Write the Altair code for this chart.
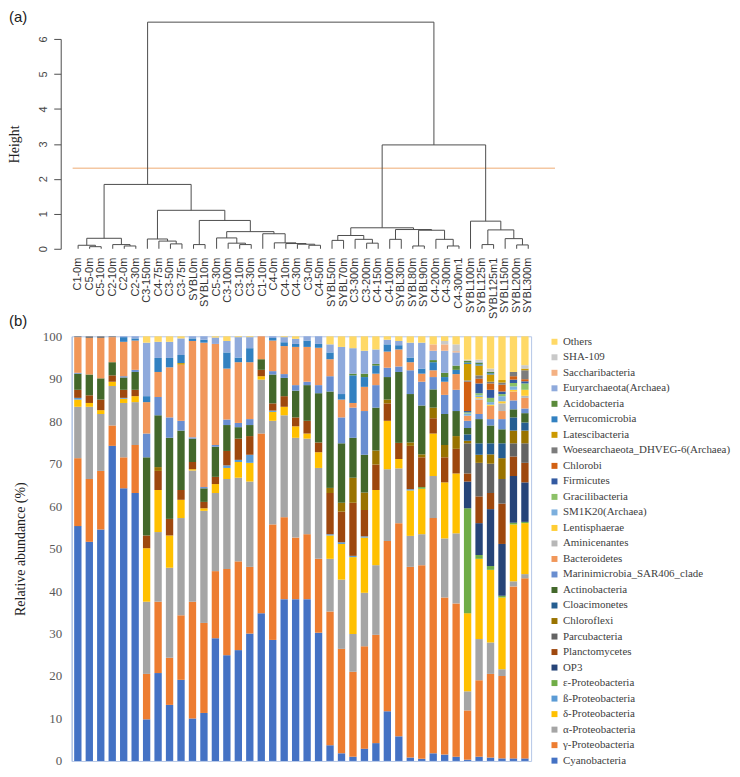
import altair as alt
import pandas as pd

samples = ["C1-0m", "C5-0m", "C5-10m", "C2-10m", "C2-0m", "C2-30m", "C3-150m", "C4-75m", "C3-50m", "C3-75m",
           "SYBL0m", "SYBL10m", "C5-30m", "C3-100m", "C3-10m", "C3-30m", "C1-10m", "C4-0m", "C4-10m", "C4-30m",
           "C3-0m", "C4-50m", "SYBL50m", "SYBL70m", "C3-300m", "C3-200m", "C4-150m", "C4-100m", "SYBL30m", "SYBL80m",
           "SYBL90m", "C4-200m", "C4-300m", "C4-300m1", "SYBL100m", "SYBL125m", "SYBL125m1", "SYBL150m", "SYBL200m", "SYBL300m"]

# Dendrogram merges: [left, right, height]; integers are leaf indices in the order above
left_tree = [[[0, [1, 2, 0.06], 0.10], [3, [4, 5, 0.08], 0.12], 0.30],
             [[6, [7, [8, 9, 0.14], 0.22], 0.28],
              [[10, 11, 0.12],
               [[12, [13, [14, 15, 0.12], 0.16], 0.31],
                [16, [17, [18, [19, [20, 21, 0.10], 0.13], 0.15], 0.17], 0.43], 0.49], 0.81], 1.10], 1.84]
right_tree = [[[[22, 23, 0.24], [24, [25, 26, 0.16], 0.27], 0.38],
               [[27, 28, 0.27], [[29, 30, 0.08], [31, [32, 33, 0.08], 0.27], 0.53], 0.55], 0.60],
              [34, [[35, 36, 0.12], [37, [38, 39, 0.11], 0.29], 0.54], 0.79], 2.97]
root_tree = [left_tree, right_tree, 6.48]
cut_height = 2.3

# Relative abundance (%) per phylum, one value per sample
cyano = [55.3, 51.6, 54.5, 74.2, 64.2, 63.1, 9.8, 20.7, 13.2, 19.1,
         10.0, 11.3, 28.9, 24.9, 26.1, 30.0, 34.8, 28.5, 38.1, 38.1,
         38.1, 30.2, 3.7, 1.8, 1.0, 2.9, 4.2, 11.7, 5.8, 0.8,
         0.5, 1.8, 1.5, 1.0, 0.3, 1.0, 0.8, 0.6, 0.6, 0.6]
gamma = [16.0, 14.8, 13.8, 4.8, 7.3, 11.3, 10.7, 16.8, 11.1, 15.2,
         27.5, 21.2, 15.8, 20.3, 20.9, 15.7, 42.3, 27.2, 19.3, 14.5,
         15.3, 17.4, 31.5, 24.6, 20.0, 24.1, 25.5, 40.1, 50.2, 44.9,
         45.6, 55.4, 37.0, 36.1, 11.6, 18.0, 19.7, 19.4, 40.5, 42.4]
alpha = [12.1, 17.0, 13.4, 9.3, 12.8, 10.1, 17.0, 16.4, 21.2, 22.9,
         30.9, 26.4, 18.4, 21.2, 19.7, 20.1, 12.7, 24.4, 24.0, 23.5,
         22.5, 21.4, 12.4, 16.3, 8.9, 12.6, 16.4, 16.9, 12.9, 7.3,
         7.3, 9.9, 13.9, 16.5, 4.5, 9.7, 7.4, 1.6, 1.2, 1.0]
delta = [1.7, 0.9, 0.9, 1.0, 1.0, 1.4, 12.6, 9.9, 7.6, 4.3,
         0.3, 0.6, 2.1, 2.6, 3.7, 4.4, 0.8, 2.1, 2.0, 2.7,
         1.2, 3.7, 5.5, 8.4, 18.1, 13.0, 17.7, 11.4, 2.2, 10.7,
         10.7, 10.0, 13.2, 14.1, 18.4, 18.9, 17.1, 16.9, 13.4, 12.0]
beta = [0.4, 0, 0, 0, 0.2, 0, 0, 0, 0, 0,
        0, 0, 0, 0.6, 0.5, 1.9, 0, 0.3, 0, 0,
        0, 0, 0.3, 0.4, 0.3, 0.3, 0, 0, 0, 0.3,
        0, 0, 0, 0, 0, 0, 0, 0, 0, 0]
epsilon = [0, 0, 0, 0, 0, 0, 0, 0, 0, 0,
           0, 0, 0, 0, 0, 0, 0, 0, 0, 0,
           0, 0, 0, 0, 0, 0, 0, 0, 0, 0,
           0.4, 0, 0, 0, 24.7, 0.9, 0.9, 0.4, 0.4, 0.3]
op3 = [0, 0, 0, 0, 0, 0, 0, 0, 0, 0,
       0, 0, 0, 0, 0, 0, 0, 0, 0, 0,
       0, 0, 0, 0, 0, 0, 0, 0, 0, 0,
       0, 0, 0, 0, 6.3, 7.5, 13.4, 12.2, 11.0, 9.3]
planct = [1.9, 1.8, 2.5, 1.5, 1.9, 1.5, 3.0, 4.5, 3.9, 2.3,
          1.7, 1.5, 1.7, 3.4, 5.0, 4.4, 1.5, 1.7, 2.5, 2.1,
          3.0, 2.3, 9.7, 7.2, 12.5, 6.2, 6.0, 4.1, 3.8, 10.2,
          7.0, 3.6, 5.9, 5.8, 1.9, 6.3, 3.8, 9.5, 4.6, 4.6]
parcu = [0, 0, 0, 0, 0, 0, 0, 0, 0, 0,
         0, 0, 0, 0, 0, 0, 0, 0, 0, 0,
         0, 0, 0, 0, 0, 0, 0, 0, 0, 0,
         0, 0, 0, 0, 7.1, 7.9, 6.9, 5.8, 3.1, 4.6]
chlorofl = [0, 0, 0, 0, 0, 0, 0, 0.9, 0, 0,
            0, 0, 0, 0, 0, 0, 0, 0, 0, 0,
            0, 0, 1.2, 2.1, 5.9, 4.1, 3.3, 0.9, 0, 0.8,
            0.7, 2.5, 2.9, 3.0, 0.6, 1.9, 2.2, 4.9, 3.0, 3.0]
cloaci = [0, 0, 0, 0, 0, 0, 0, 0, 0, 0,
          0, 0, 0, 0, 0, 0, 0, 0, 0, 0,
          0, 0, 0, 0, 0, 0, 0, 0, 0, 0,
          0, 0, 0, 0, 1.5, 2.7, 2.6, 3.5, 3.1, 1.9]
actino = [3.8, 4.9, 5.0, 3.1, 2.9, 4.2, 18.4, 12.2, 19.1, 14.0,
          5.5, 3.2, 7.1, 6.1, 2.7, 2.6, 2.5, 6.8, 4.3, 6.3,
          8.4, 11.6, 22.7, 14.0, 9.4, 8.9, 10.1, 5.3, 16.7, 11.4,
          11.5, 4.3, 7.3, 5.9, 1.5, 5.7, 4.2, 3.3, 1.9, 2.2]
marin = [0.2, 0, 0, 0, 0.3, 0.5, 5.6, 4.3, 4.8, 2.3,
         0.3, 0.3, 0.4, 1.3, 1.0, 1.4, 0, 0.8, 0.9, 1.3,
         0.8, 1.9, 3.6, 6.1, 7.1, 10.3, 5.3, 2.2, 1.3, 5.6,
         5.6, 2.9, 4.5, 5.0, 1.7, 1.2, 1.5, 2.4, 2.1, 1.1]
bactero = [8.4, 8.6, 9.5, 5.9, 8.1, 6.9, 7.4, 5.9, 11.8, 13.2,
           22.7, 34.0, 23.8, 12.0, 14.3, 13.4, 5.4, 7.2, 6.6, 9.0,
           8.2, 8.8, 4.0, 4.2, 1.1, 5.7, 2.7, 3.8, 4.0, 1.9,
           1.9, 1.6, 3.1, 3.7, 1.2, 3.4, 3.1, 1.9, 2.1, 2.5]
amini = [0, 0, 0, 0, 0, 0, 0, 0, 0, 0,
         0, 0, 0, 0, 0, 0, 0, 0, 0, 0,
         0, 0, 0, 0, 0, 0, 0, 0, 0, 0,
         0, 0, 0, 0, 0, 0.3, 0, 1.8, 0, 0.5]
lentis = [0, 0, 0, 0, 0, 0, 0, 0, 0, 0,
          0, 0, 0, 0, 0, 0, 0, 0, 0, 0,
          0, 0, 0, 0, 0, 0, 0, 0, 0, 0,
          0, 0, 0, 0, 0, 0.3, 0.3, 0.5, 0.4, 1.4]
sm1k20 = [0, 0, 0, 0, 0, 0, 0, 0, 0, 0,
          0, 0, 0, 0, 0, 0, 0, 0, 0, 0,
          0, 0, 0, 0, 0, 0, 0, 0, 0, 0,
          0, 0, 0, 0, 0.5, 0.4, 0.6, 1.2, 0.8, 0]
gracil = [0, 0, 0, 0, 0, 0, 0, 0, 0, 0,
          0, 0, 0, 0, 0, 0, 0, 0, 0, 0,
          0, 0, 0, 0, 0, 0, 0, 0, 0, 0,
          0, 0, 0, 0, 0.3, 0.5, 1.0, 0.5, 0.8, 1.5]
firmic = [0, 0, 0, 0, 0, 0, 0, 0, 0, 0,
          0, 0, 0, 0, 0, 0, 0, 0, 0, 0,
          0, 0, 0, 0, 0, 0, 0, 0, 0, 0,
          0, 0, 0, 0, 0.3, 2.3, 1.9, 0.6, 0.8, 0.5]
chlorobi = [0, 0, 0, 0, 0, 0, 0, 0, 0, 0,
            0, 0, 0, 0, 0, 0, 0, 0, 0, 0,
            0, 0, 0, 0, 0, 0, 0, 0, 0, 0,
            0, 0, 0, 0, 6.9, 1.1, 1.5, 1.6, 0.8, 0.5]
woese = [0.2, 0.4, 0.4, 0.2, 0, 0, 0, 0, 0, 0,
         0, 0, 0, 0, 0, 0, 0, 0, 0, 0,
         0, 0, 0, 0, 0, 0, 0, 0, 0, 0,
         0, 0, 0, 0, 0.3, 0.8, 0.4, 0.5, 1.0, 2.1]
latesci = [0, 0, 0, 0, 0, 0, 0, 0, 0, 0.4,
           0, 0, 0, 0, 0, 0, 0, 0, 0, 0,
           0, 0, 0, 0, 0, 0, 0, 0, 0, 0,
           0, 0, 0, 0, 3.9, 2.3, 1.7, 0.6, 0, 0.4]
verruc = [0, 0, 0, 0, 1.1, 0.5, 1.4, 3.3, 2.2, 1.9,
          0.6, 0.7, 0, 3.8, 1.1, 3.3, 0, 0.6, 0.9, 0.7,
          1.5, 0.9, 1.6, 1.3, 6.5, 2.3, 1.9, 1.7, 1.0, 1.1,
          1.2, 1.9, 1.1, 1.0, 0.3, 0.3, 0.3, 0, 0, 0]
acido = [0, 0, 0, 0, 0, 0, 0, 0, 0, 0,
         0, 0, 0, 0, 0, 0, 0, 0, 0, 0,
         0, 0, 0, 0, 0.4, 0.8, 0.4, 0, 0, 0,
         0, 0.5, 1.0, 1.0, 0.4, 0.4, 0.3, 0, 0, 0]
euryar = [0, 0, 0, 0, 0.2, 0.5, 12.6, 3.8, 3.8, 3.9,
          0.5, 0.8, 1.5, 2.7, 4.8, 2.6, 0, 0.4, 1.2, 1.2,
          1.0, 1.8, 1.9, 11.1, 6.0, 5.4, 3.4, 1.1, 1.0, 3.5,
          6.1, 2.2, 5.2, 3.1, 0, 0.2, 0, 0, 0, 0]
sacchar = [0, 0, 0, 0, 0, 0, 0, 0, 0, 0,
           0, 0, 0, 0, 0, 0, 0, 0, 0, 0,
           0, 0, 0, 0, 0, 0, 0, 0, 0, 0,
           0, 1.5, 1.5, 0.3, 0, 0, 0, 0, 0, 0]
sha109 = [0, 0, 0, 0, 0, 0, 0, 0, 0, 0,
          0, 0, 0, 0, 0, 0, 0, 0, 0, 0,
          0, 0, 0, 0, 0, 0, 0, 0, 0, 0,
          0, 0, 0.8, 1.6, 0.3, 0.5, 0.8, 0, 0, 0.8]
others = [0, 0, 0, 0, 0, 0, 1.5, 1.3, 1.3, 0.5,
          0, 0, 0.3, 1.1, 0.2, 0.2, 0, 0, 0.2, 0.6,
          0, 0, 1.9, 2.5, 2.8, 3.4, 3.1, 0.8, 1.1, 1.5,
          1.5, 1.9, 1.1, 1.9, 5.5, 5.5, 7.6, 10.3, 8.4, 6.8]

# stack order: bottom first
series = [
    ("Cyanobacteria", cyano, "#4472C4"),
    ("γ-Proteobacteria", gamma, "#ED7D31"),
    ("α-Proteobacteria", alpha, "#A5A5A5"),
    ("δ-Proteobacteria", delta, "#FFC000"),
    ("ß-Proteobacteria", beta, "#5B9BD5"),
    ("ε-Proteobacteria", epsilon, "#70AD47"),
    ("OP3", op3, "#264478"),
    ("Planctomycetes", planct, "#9E480E"),
    ("Parcubacteria", parcu, "#636363"),
    ("Chloroflexi", chlorofl, "#997300"),
    ("Cloacimonetes", cloaci, "#255E91"),
    ("Actinobacteria", actino, "#43682B"),
    ("Marinimicrobia_SAR406_clade", marin, "#698ED0"),
    ("Bacteroidetes", bactero, "#F1975A"),
    ("Aminicenantes", amini, "#B7B7B7"),
    ("Lentisphaerae", lentis, "#FFCD33"),
    ("SM1K20(Archaea)", sm1k20, "#7CAFDD"),
    ("Gracilibacteria", gracil, "#8CC168"),
    ("Firmicutes", firmic, "#335AA1"),
    ("Chlorobi", chlorobi, "#D26012"),
    ("Woesearchaeota_DHVEG-6(Archaea)", woese, "#7C7C7C"),
    ("Latescibacteria", latesci, "#CC9900"),
    ("Verrucomicrobia", verruc, "#3281C1"),
    ("Acidobacteria", acido, "#5A8A3A"),
    ("Euryarchaeota(Archaea)", euryar, "#8FAADC"),
    ("Saccharibacteria", sacchar, "#F4B183"),
    ("SHA-109", sha109, "#C9C9C9"),
    ("Others", others, "#FFD966"),
]

# ---------- dendrogram geometry from the merge tree ----------
segs = []


def walk(node):
    if isinstance(node, int):
        return float(node), 0.0
    l, r, h = node
    xl, hl = walk(l)
    xr, hr = walk(r)
    segs.append({"x": xl, "y": hl, "x2": xl, "y2": h})
    segs.append({"x": xr, "y": hr, "x2": xr, "y2": h})
    segs.append({"x": xl, "y": h, "x2": xr, "y2": h})
    return (xl + xr) / 2.0, h


walk(root_tree)
seg_df = pd.DataFrame(segs)
leaf_df = pd.DataFrame({"pos": list(range(len(samples))), "label": samples})

W = 462
H_TOP = 211
H_BAR = 427

x_scale = alt.Scale(domain=[-0.56, 39.25], nice=False, zero=False)
y_scale = alt.Scale(domain=[0, 6], nice=False)
y_axis = alt.Axis(values=[0, 1, 2, 3, 4, 5, 6], title="Height", grid=False, offset=11,
                  tickSize=7, tickColor="#4d4d4d", domainColor="#4d4d4d",
                  labelAngle=270, labelAlign="center", labelBaseline="bottom",
                  labelFont="Liberation Sans", labelFontSize=11, labelColor="#444444", labelPadding=5,
                  titleFont="Liberation Serif", titleFontSize=14, titleFontWeight="normal",
                  titleColor="#222222", titlePadding=16)

cut = alt.Chart(pd.DataFrame({"h": [cut_height]})).mark_rule(color="#F4C7A2", strokeWidth=1.5).encode(
    y=alt.Y("h:Q", scale=y_scale, axis=y_axis),
    x=alt.value(1), x2=alt.value(486))

dendro = alt.Chart(seg_df).mark_rule(color="#4d4d4d", strokeWidth=1).encode(
    x=alt.X("x:Q", scale=x_scale, axis=None),
    x2="x2:Q",
    y=alt.Y("y:Q", scale=y_scale, axis=y_axis),
    y2="y2:Q")

leaf_text = alt.Chart(leaf_df).mark_text(angle=270, align="right", baseline="middle",
                                         font="Liberation Sans", fontSize=11, color="#333333").encode(
    x=alt.X("pos:Q", scale=x_scale, axis=None),
    y=alt.value(H_TOP + 9),
    text="label:N")

tag_a = alt.Chart(pd.DataFrame({"t": ["(a)"]})).mark_text(
    align="left", baseline="middle", font="Liberation Sans", fontSize=15, color="#222222").encode(
    x=alt.value(-63), y=alt.value(-22), text="t:N")
tag_b = alt.Chart(pd.DataFrame({"t": ["(b)"]})).mark_text(
    align="left", baseline="middle", font="Liberation Sans", fontSize=15, color="#222222").encode(
    x=alt.value(-63), y=alt.value(284), text="t:N")

top = alt.layer(cut, dendro, leaf_text, tag_a, tag_b).properties(
    width=W, height=H_TOP, view=alt.ViewBackground(stroke=None))

# ---------- stacked bars ----------
rows = []
for rank, (name, vals, col) in enumerate(series):
    for s, v in zip(samples, vals):
        if v > 0:
            rows.append({"sample": s, "taxon": name, "value": v, "rank": rank})
bar_df = pd.DataFrame(rows)

legend_names = [s[0] for s in series][::-1]
legend_colors = [s[2] for s in series][::-1]

bars = alt.Chart(bar_df).mark_bar().encode(
    x=alt.X("sample:N", sort=samples, axis=None,
            scale=alt.Scale(paddingInner=0.36, paddingOuter=0.22)),
    y=alt.Y("value:Q", stack="normalize", scale=alt.Scale(domain=[0, 1], nice=False),
            axis=alt.Axis(values=[0, 0.1, 0.2, 0.3, 0.4, 0.5, 0.6, 0.7, 0.8, 0.9, 1.0],
                          labelExpr="format(datum.value * 100, '.0f')",
                          title="Relative abundance (%)", grid=False, ticks=False,
                          domainColor="#A9BEE0", labelPadding=10,
                          labelFont="Liberation Serif", labelFontSize=13, labelColor="#595959",
                          titleFont="Liberation Serif", titleFontSize=14, titleFontWeight="normal",
                          titleColor="#222222", titlePadding=15)),
    color=alt.Color("taxon:N", scale=alt.Scale(domain=legend_names, range=legend_colors),
                    legend=alt.Legend(title=None, orient="right", offset=18, padding=0,
                                      symbolType="square", symbolSize=36, symbolStrokeWidth=0,
                                      labelFont="Liberation Serif", labelFontSize=11,
                                      labelColor="#404040", rowPadding=3.6, labelOffset=3,
                                      labelLimit=300)),
    order=alt.Order("rank:Q", sort="ascending"),
).properties(width=W, height=H_BAR, view=alt.ViewBackground(stroke="#B4C7E7", strokeWidth=1))

chart = alt.vconcat(top, bars, spacing=0).resolve_legend(color="independent").properties(padding=0)
chart.save("out.html", embed_options={"renderer": "svg", "actions": False})
